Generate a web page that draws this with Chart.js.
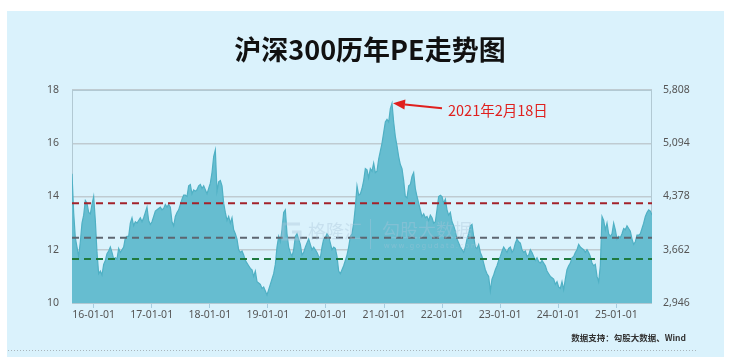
<!DOCTYPE html>
<html><head><meta charset="utf-8">
<script src="https://cdn.jsdelivr.net/npm/chart.js@4.4.0/dist/chart.umd.min.js"></script>
<style>
html,body{margin:0;padding:0;background:#fff;}
canvas{display:block}
</style></head><body>
<canvas id="c" width="736" height="357"></canvas>
<script>
// ---- data (PE of CSI 300, sampled roughly every 10.5 days) ----
const titleText = '沪深300历年PE走势图';
const sourceText = '数据支持：勾股大数据、Wind';
const peakLabel = '2021年2月18日';
const startYear = 2015.627;
const stepYears = 0.0287;
const pe2015_2016 = [14.85,13.4,12.45,12.1,11.75,12.3,13.0,13.3,13.85,13.75,13.4,13.35,13.7,14.0,13.1,11.9,11.1,
  11.2,11.05,11.45,11.6,11.85,11.95,12.1,11.9,11.65,11.7,11.65,12.05,11.9,12.0,12.1,12.45,12.5,
  12.5,13.0,13.2,12.9,13.05,13.0,13.1,13.2,13.05,13.2,13.4,13.6,13.1,12.95,13.05,13.25,13.45];
const pe2017_2018 = [13.5,13.55,13.6,13.5,13.55,13.7,13.6,13.7,13.6,13.05,12.9,13.25,13.4,13.5,13.7,13.9,14.05,
  14.05,14.0,14.4,14.45,14.1,14.25,14.2,14.25,14.4,14.45,14.3,14.4,14.25,14.1,14.3,14.5,14.9,
  15.5,15.75,14.2,14.55,14.6,14.4,13.75,13.4,13.1,13.25,13.0,13.2,12.75,12.6,12.4,12.0,11.9,
  11.95,11.8,11.6,11.5,11.4,11.3,11.25,11.0,11.2,10.8,10.75,10.7,10.55,10.6,10.45,10.3,10.5];
const pe2019_2020 = [10.7,10.9,11.1,11.45,12.1,12.5,12.3,12.75,13.4,13.5,12.6,12.1,11.9,11.75,12.0,12.5,12.6,
  12.4,12.2,11.8,11.9,12.1,12.25,12.4,12.2,12.0,12.1,12.0,11.9,11.75,11.7,12.1,12.4,12.45,
  12.6,12.5,12.25,12.0,12.1,12.05,11.75,11.2,11.1,11.25,11.4,11.6,11.8,12.1,12.5,12.6,13.0,
  13.6,14.4,14.05,14.1,14.3,14.6,15.05,15.0,14.7,15.05,14.95,15.25,14.9,14.95,15.4,15.7,16.0];
const pe2021_2022 = [16.4,16.8,16.9,16.8,17.3,17.5,16.8,16.25,15.9,15.5,15.2,15.05,14.6,14.0,13.95,14.4,14.45,
  14.75,14.9,14.3,14.0,13.75,13.5,13.25,13.35,13.2,13.25,13.1,13.3,13.2,13.0,13.05,13.5,14.0,
  14.05,14.0,13.75,13.9,13.5,13.3,13.4,13.05,12.9,12.7,12.4,12.25,12.1,12.0,11.9,12.1,12.4,
  12.6,12.9,12.95,12.5,12.1,12.05,12.2,11.9,11.75,11.5,11.25,11.1,11.0,10.45,10.9,11.05,11.25];
const pe2023_2025 = [11.4,11.6,11.75,11.95,12.1,12.0,11.9,12.05,12.1,11.9,12.0,12.25,12.4,12.3,12.25,12.0,11.9,
  11.95,11.75,11.8,12.0,11.9,11.75,11.6,11.7,11.55,11.5,11.6,11.5,11.4,11.2,11.1,11.0,10.95,
  10.9,10.7,10.8,10.6,10.55,10.8,10.5,10.9,11.25,11.4,11.5,11.7,11.75,11.9,12.0,12.2,12.1,
  12.05,12.0,11.9,12.0,11.9,11.75,11.5,11.4,11.45,11.0,10.8,11.4,13.25,13.1,12.75,13.0,12.6,
  12.5,12.6,13.0,12.75,12.4,12.5,12.45,12.6,12.8,12.75,12.9,12.8,12.7,12.4,12.2,12.3,12.55,
  12.55,12.6,12.8,13.0,13.25,13.4,13.5,13.45,13.3];
const pe = [].concat(pe2015_2016, pe2017_2018, pe2019_2020, pe2021_2022, pe2023_2025);
const dates = pe.map((v, i) => startYear + i * stepYears);
const refValues = [13.75, 12.45, 11.65];
const refColors = ['#a3222a', '#5d6670', '#1f7a3e'];
const leftTicks = [10, 12, 14, 16, 18];
const rightTicks = [2946, 3662, 4378, 5094, 5808];
const yearTicks = [2016, 2017, 2018, 2019, 2020, 2021, 2022, 2023, 2024, 2025];

const FONT = '"Noto Sans", "Noto Sans CJK SC", sans-serif';
const CJK = '"Noto Sans CJK SC", "Noto Sans", sans-serif';
const xMin = dates[0], xMax = dates[dates.length - 1];

const deco = {
  id: 'deco',
  beforeDraw(chart) {
    const ctx = chart.ctx;
    ctx.save();
    ctx.fillStyle = '#ffffff';
    ctx.fillRect(0, 0, chart.width, chart.height);
    ctx.fillStyle = '#daf2fc';
    ctx.fillRect(7, 11, 717, 346);
    ctx.fillStyle = '#111';
    ctx.font = 'bold 27px ' + CJK;
    ctx.textAlign = 'center';
    ctx.textBaseline = 'middle';
    ctx.fillText(titleText, 370, 50);
    ctx.strokeStyle = '#a9b4ba';
    ctx.lineWidth = 1;
    ctx.setLineDash([1, 2]);
    ctx.beginPath();
    ctx.moveTo(8, 350.5);
    ctx.lineTo(697, 350.5);
    ctx.stroke();
    ctx.restore();
  },
  beforeDatasetsDraw(chart) {
    const ctx = chart.ctx, a = chart.chartArea;
    ctx.save();
    ctx.strokeStyle = '#b2c9d3';
    ctx.lineWidth = 1;
    ctx.strokeRect(a.left + 0.5, a.top + 0.5, a.right - a.left - 1, a.bottom - a.top);
    ctx.restore();
  },
  afterDatasetsDraw(chart) {
    const ctx = chart.ctx, xs = chart.scales.x, ys = chart.scales.y;
    ctx.save();
    // watermark
    ctx.globalAlpha = 0.4;
    ctx.fillStyle = '#a9c6da';
    ctx.strokeStyle = '#a9c6da';
    ctx.lineWidth = 3;
    ctx.beginPath();
    ctx.moveTo(300, 224); ctx.lineTo(283, 224); ctx.lineTo(283, 239); ctx.lineTo(300, 239); ctx.lineTo(300, 232); ctx.lineTo(292, 232);
    ctx.stroke();
    ctx.font = '18px ' + CJK;
    ctx.textBaseline = 'middle';
    ctx.textAlign = 'left';
    ctx.fillText('格隆汇', 308, 231);
    ctx.fillRect(370, 219, 1, 30);
    ctx.fillText('勾股大数据', 382, 230);
    ctx.font = '7px ' + FONT;
    ctx.fillText('w w w . g o g u d a t a . c o m', 384, 246);
    ctx.globalAlpha = 1;
    // peak annotation
    let pi = 0;
    pe.forEach((v, i) => { if (v > pe[pi]) pi = i; });
    const px = xs.getPixelForValue(dates[pi]);
    const py = ys.getPixelForValue(pe[pi]);
    const tipX = px + 1, tipY = py;
    const tailX = tipX + 49, tailY = tipY + 5;
    const ang = Math.atan2(tipY - tailY, tipX - tailX);
    const hl = 12, hw = 5;
    const bx = tipX - hl * Math.cos(ang), by = tipY - hl * Math.sin(ang);
    ctx.strokeStyle = '#e0201e';
    ctx.fillStyle = '#e0201e';
    ctx.lineWidth = 2;
    ctx.beginPath();
    ctx.moveTo(tailX, tailY);
    ctx.lineTo(bx, by);
    ctx.stroke();
    ctx.beginPath();
    ctx.moveTo(tipX, tipY);
    ctx.lineTo(bx + hw * Math.sin(ang), by - hw * Math.cos(ang));
    ctx.lineTo(bx - hw * Math.sin(ang), by + hw * Math.cos(ang));
    ctx.closePath();
    ctx.fill();
    ctx.font = '14.5px ' + CJK;
    ctx.textAlign = 'left';
    ctx.textBaseline = 'middle';
    ctx.fillText(peakLabel, tailX + 6, tailY + 2);
    // source
    ctx.fillStyle = '#333';
    ctx.font = 'bold 8.5px ' + CJK;
    ctx.textAlign = 'right';
    ctx.fillText(sourceText, 686, 338);
    ctx.restore();
  }
};

const datasets = refValues.map((v, k) => ({
  data: [{x: xMin, y: v}, {x: xMax, y: v}],
  borderColor: refColors[k],
  borderWidth: 2,
  borderDash: [7, 5],
  pointRadius: 0,
  fill: false,
  order: 1,
  yAxisID: 'y'
}));
datasets.push({
  data: pe.map((v, i) => ({x: dates[i], y: v})),
  borderColor: '#4fb0c4',
  borderWidth: 1.2,
  backgroundColor: '#66bdd0',
  fill: 'start',
  pointRadius: 0,
  tension: 0,
  order: 2,
  yAxisID: 'y'
});

new Chart(document.getElementById('c'), {
  type: 'line',
  data: { datasets },
  plugins: [deco],
  options: {
    responsive: false,
    animation: false,
    devicePixelRatio: 1,
    layout: { padding: { left: 0, right: 0, top: 90, bottom: 24 } },
    plugins: { legend: { display: false }, tooltip: { enabled: false } },
    scales: {
      x: {
        type: 'linear',
        min: xMin, max: xMax,
        afterBuildTicks: s => { s.ticks = yearTicks.map(v => ({ value: v })); },
        afterFit: s => { s.height = 30; },
        ticks: {
          autoSkip: false, maxRotation: 0, padding: 1,
          color: '#555', font: { family: FONT, size: 10.5 },
          callback: v => String(v).slice(2) + '-01-01'
        },
        grid: { drawOnChartArea: false, drawTicks: true, tickLength: 5, color: '#a7cde0', lineWidth: 1 },
        border: { display: false }
      },
      y: {
        position: 'left',
        min: 10, max: 18,
        afterBuildTicks: s => { s.ticks = leftTicks.map(v => ({ value: v })); },
        afterFit: s => { s.width = 72; },
        ticks: { padding: 13, color: '#555', font: { family: FONT, size: 10.5 } },
        grid: { drawTicks: false, color: '#bfcbd1', lineWidth: 1.5 },
        border: { display: false }
      },
      y2: {
        position: 'right',
        min: 2946, max: 5808,
        afterBuildTicks: s => { s.ticks = rightTicks.map(v => ({ value: v })); },
        afterFit: s => { s.width = 84; },
        ticks: { padding: 11, color: '#555', font: { family: FONT, size: 10.5 },
          callback: v => v.toLocaleString('en-US') },
        grid: { display: false, drawTicks: false },
        border: { display: false }
      }
    }
  }
});
</script>
</body></html>
